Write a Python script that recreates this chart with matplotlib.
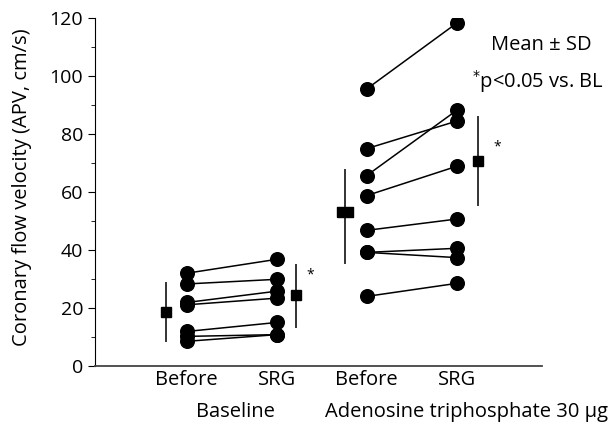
import numpy as np
import matplotlib
matplotlib.use('Agg')
import matplotlib.pyplot as plt

plt.rcParams['font.family'] = ['Open Sans', 'DejaVu Sans']

# individual subjects, before -> SRG
base_before = [32.0, 28.3, 21.9, 21.1, 11.9, 10.2, 8.5]
base_srg = [36.8, 29.9, 25.8, 23.4, 15.0, 10.8, 10.8]
atp_before = [95.6, 75.0, 65.7, 58.8, 46.8, 39.2, 39.2, 24.0]
atp_srg = [118.3, 84.5, 88.2, 68.9, 50.7, 40.6, 37.4, 28.5]

# mean and SD (upper, lower ends of bar)
means = [18.6, 24.5, 53.0, 70.6]
sd_lo = [8.5, 13.6, 35.4, 55.5]
sd_hi = [28.8, 34.8, 67.8, 85.8]

cat_labels = ['Before', 'SRG', 'Before', 'SRG']
groups = ['Baseline', 'Adenosine triphosphate 30 \u03bcg']

fig = plt.figure(figsize=[6.11, 4.26], dpi=100)
ax = fig.add_axes([0.1555, 0.141, 0.7316, 0.816])

for a, b in zip(base_before, base_srg):
    ax.plot([1, 2], [a, b], color='black', lw=1.1, marker='o', ms=9.8, zorder=3)
for a, b in zip(atp_before, atp_srg):
    ax.plot([3, 4], [a, b], color='black', lw=1.1, marker='o', ms=9.8, zorder=3)

mean_x = [0.77, 2.22, 2.76, 4.24]
for i in range(4):
    ax.plot([mean_x[i], mean_x[i]], [sd_lo[i], sd_hi[i]], color='#333333', lw=1.4)
rect = [(-1.6, -1), (1.6, -1), (1.6, 1), (-1.6, 1), (-1.6, -1)]
for i in range(4):
    if i == 2:
        ax.plot(mean_x[i], means[i], marker=rect, ms=11, color='black', ls='none')
    else:
        ax.plot(mean_x[i], means[i], marker='s', ms=6.5, color='black', ls='none')

ax.text(2.37, 31.5, '*', fontsize=10, ha='center', va='center')
ax.text(4.45, 75.5, '*', fontsize=10, ha='center', va='center')

ax.text(4.94, 110.7, 'Mean \u00b1 SD', fontsize=14.5, ha='center', va='center', clip_on=False)
ax.text(4.91, 98.3, '$^{*}$p<0.05 vs. BL', fontsize=14.5, ha='center', va='center', clip_on=False)

ax.set_xlim(-0.02, 4.95)
ax.set_ylim(0, 120)
ax.set_yticks(np.arange(0, 121, 20))
ax.set_yticks(np.arange(10, 120, 20), minor=True)
ax.tick_params(axis='y', which='major', length=5, labelsize=14)
ax.tick_params(axis='y', which='minor', length=3)
ax.set_xticks([1, 2, 3, 4])
ax.set_xticklabels(cat_labels, fontsize=14.5)
ax.tick_params(axis='x', length=0, pad=3)
ax.spines['top'].set_visible(False)
ax.spines['right'].set_visible(False)
ax.spines['bottom'].set_color('#444444')
ax.spines['bottom'].set_linewidth(1.3)
ax.set_ylabel('Coronary flow velocity (APV, cm/s)', fontsize=14.5)
ax.yaxis.set_label_coords(-0.142, 0.515)

ax.text(1.54, -0.1326, groups[0], fontsize=14.5, ha='center', va='center', transform=ax.get_xaxis_transform())
ax.text(4.11, -0.1326, groups[1], fontsize=14.5, ha='center', va='center', transform=ax.get_xaxis_transform())

fig.savefig('out.png', dpi=100)
